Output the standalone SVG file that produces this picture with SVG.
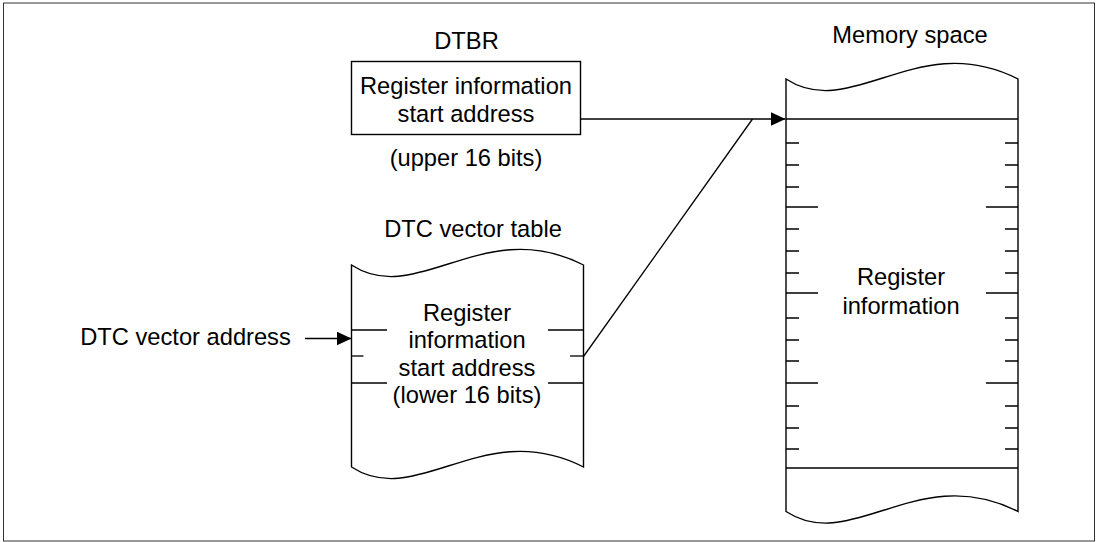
<svg xmlns="http://www.w3.org/2000/svg" width="1100" height="542" viewBox="0 0 1100 542">
<defs>
<style>
text{font-family:"Liberation Sans",Arial,sans-serif;font-size:23.7px;fill:#000;text-anchor:middle}
.ln{stroke:#000;stroke-width:1.3;fill:none}
.shape{stroke:#000;stroke-width:1.4;fill:#fff}
</style>
<marker id="arr" markerUnits="userSpaceOnUse" markerWidth="16" markerHeight="14" refX="15" refY="7" orient="auto">
<path d="M0,0 L15,7 L0,14 Z" fill="#000"/>
</marker>
</defs>
<rect x="3.5" y="3" width="1091" height="538" fill="#fff" stroke="#333" stroke-width="1"/>

<g id="dtbr">
<text x="466.5" y="49">DTBR</text>
<rect x="351.5" y="61.5" width="229" height="73" class="shape"/>
<text x="466" y="94">Register information</text>
<text x="466" y="122">start address</text>
<text x="466" y="166">(upper 16 bits)</text>
</g>

<g id="dtc-vector-table">
<text x="473" y="237">DTC vector table</text>
<path class="shape" d="M351.5,265 c66,43 131.5,-51 232,0 L583.5,467 C483,416 417.5,510 351.5,467 Z"/>
<line class="ln" x1="351.5" y1="330" x2="387" y2="330"/>
<line class="ln" x1="548" y1="330" x2="583.5" y2="330"/>
<line class="ln" x1="351.5" y1="356" x2="363.5" y2="356"/>
<line class="ln" x1="570" y1="356" x2="583.5" y2="356"/>
<line class="ln" x1="351.5" y1="383" x2="387" y2="383"/>
<line class="ln" x1="548" y1="383" x2="583.5" y2="383"/>
<text x="467" y="321">Register</text>
<text x="467" y="348">information</text>
<text x="467" y="376">start address</text>
<text x="467" y="403">(lower 16 bits)</text>
</g>

<g id="dtc-vector-address">
<text x="185.5" y="345">DTC vector address</text>
</g>

<g id="memory-space">
<text x="910" y="43">Memory space</text>
<path class="shape" d="M786,79 c66,43 131.5,-51 232,0 L1018,511.5 C917.5,460.5 852,554.5 786,511.5 Z"/>
<line class="ln" x1="786" y1="119" x2="1018" y2="119"/>
<line class="ln" x1="786" y1="468" x2="1018" y2="468"/>
<g class="ln">
<path d="M786,143h13M1018,143h-13M786,165h13M1018,165h-13M786,187h13M1018,187h-13M786,229h13M1018,229h-13M786,251h13M1018,251h-13M786,273h13M1018,273h-13M786,318h13M1018,318h-13M786,340h13M1018,340h-13M786,361h13M1018,361h-13M786,406h13M1018,406h-13M786,428h13M1018,428h-13M786,449h13M1018,449h-13"/>
<path d="M786,207h32M1018,207h-32M786,293h32M1018,293h-32M786,383h32M1018,383h-32"/>
</g>
<text x="901" y="285">Register</text>
<text x="901" y="314">information</text>
</g>

<g id="connectors">
<line class="ln" x1="305" y1="338.5" x2="351.5" y2="338.5" marker-end="url(#arr)"/>
<line class="ln" x1="581" y1="119" x2="785.5" y2="119" marker-end="url(#arr)"/>
<line class="ln" x1="583.5" y1="356.5" x2="752.5" y2="119"/>
</g>
</svg>
